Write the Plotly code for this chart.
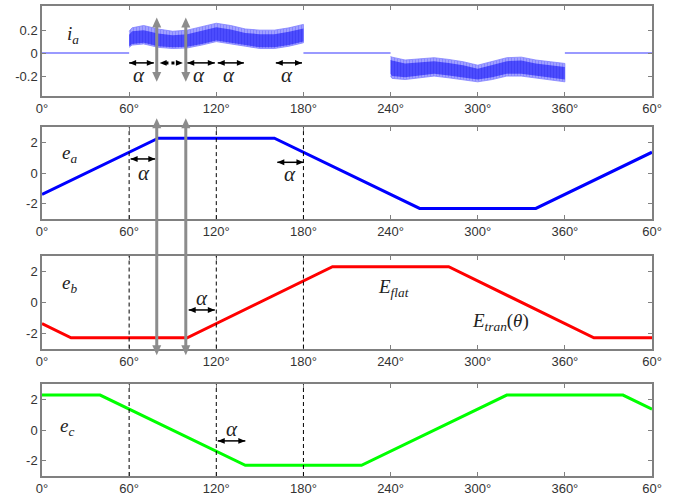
import plotly.graph_objects as go

# ---- angle axis ----
theta_ticks = [0, 60, 120, 180, 240, 300, 360, 420]
theta_labels = ["0°", "60°", "120°", "180°", "240°", "300°", "360°", "60°"]

# ---- phase back-EMF trapezoids (corner points) ----
ea_theta = [0, 80, 160, 260, 340, 420]
ea_val = [-1.38, 2.3, 2.3, -2.3, -2.3, 1.38]
eb_theta = [0, 20, 100, 200, 280, 380, 420]
eb_val = [-1.38, -2.3, -2.3, 2.3, 2.3, -2.3, -2.3]
ec_theta = [0, 40, 140, 220, 320, 400, 420]
ec_val = [2.3, 2.3, -2.3, -2.3, 2.3, 2.3, 1.38]

# ---- phase current: zero intervals ----
ia_zero_theta = [0, 60, None, 180, 240, None, 360, 420]
ia_zero_val = [0, 0, None, 0, 0, None, 0, 0]

# ---- phase current: PWM ripple band, positive conduction ----
pos_theta = [60, 62, 70, 80, 90, 100, 110, 120, 130, 140, 150, 160, 170, 180]
pos_outer_hi = [0.19, 0.22, 0.24, 0.21, 0.19, 0.20, 0.23, 0.26, 0.24, 0.21, 0.20, 0.20, 0.22, 0.25]
pos_outer_lo = [0.05, 0.07, 0.08, 0.05, 0.04, 0.045, 0.07, 0.10, 0.08, 0.06, 0.04, 0.04, 0.06, 0.09]
pos_inner_hi = [0.16, 0.19, 0.20, 0.17, 0.155, 0.165, 0.195, 0.225, 0.205, 0.175, 0.165, 0.165, 0.185, 0.215]
pos_inner_lo = [0.06, 0.08, 0.09, 0.06, 0.05, 0.055, 0.08, 0.11, 0.09, 0.07, 0.05, 0.05, 0.07, 0.10]

# ---- phase current: PWM ripple band, negative conduction ----
neg_theta = [240, 241, 250, 260, 270, 280, 290, 300, 310, 320, 330, 340, 350, 360]
neg_outer_hi = [-0.03, -0.035, -0.06, -0.05, -0.04, -0.055, -0.075, -0.105, -0.075, -0.04, -0.035, -0.06, -0.075, -0.09]
neg_outer_lo = [-0.20, -0.22, -0.23, -0.215, -0.20, -0.215, -0.23, -0.25, -0.23, -0.20, -0.20, -0.22, -0.235, -0.25]
neg_inner_hi = [-0.06, -0.065, -0.09, -0.08, -0.07, -0.085, -0.105, -0.135, -0.105, -0.07, -0.065, -0.09, -0.105, -0.12]
neg_inner_lo = [-0.18, -0.20, -0.21, -0.195, -0.18, -0.195, -0.21, -0.23, -0.21, -0.18, -0.18, -0.20, -0.215, -0.23]

# ---- alpha (commutation delay) markers: (start, end, level) per panel ----
alpha_arrows = {
    1: [(60, 77, -0.085), (100, 119, -0.085), (121, 139, -0.085), (161, 179, -0.085)],
    2: [(61, 78, 0.94), (162, 180, 0.72)],
    3: [(101, 119, -0.5)],
    4: [(121, 140, -0.7)],
}
alpha_labels = {
    1: [(67, -0.19), (108, -0.19), (129, -0.19), (169, -0.19)],
    2: [(70, 0.0), (171, -0.07)],
    3: [(110, 0.25)],
    4: [(131, 0.05)],
}
dotted_span = (81, 97, -0.085)

# gray sampling instants (angles) and their vertical extents
sample_theta = [79, 99]
sample_short = (0.31, -0.25)      # in the current panel (y units)
sample_long_top = 3.6             # above the ea panel (ea units)
sample_long_bottom = -3.43        # below the eb panel (eb units)

SERIF = "Liberation Serif"
SANS = "Liberation Sans"
GRAY = "#8c8c8c"

W, H = 679, 502
MARGIN = dict(l=42, r=27, t=4, b=26)
PX_PER_DEG = (W - MARGIN["l"] - MARGIN["r"]) / 420.0
PAPER_PER_PX = 1.0 / (H - MARGIN["t"] - MARGIN["b"])

domains = {1: [0.8093, 1.0], 2: [0.5466, 0.7415], 3: [0.2712, 0.4682], 4: [0.0, 0.1949]}
yranges = {1: [-0.37, 0.41], 2: [-3, 3], 3: [-3, 3], 4: [-3, 3]}
yticks = {1: ([-0.2, 0, 0.2], ["-0.2", "0", "0.2"]),
          2: ([-2, 0, 2], ["-2", "0", "2"]),
          3: ([-2, 0, 2], ["-2", "0", "2"]),
          4: ([-2, 0, 2], ["-2", "0", "2"])}


def to_paper(i, v):
    r, d = yranges[i], domains[i]
    return d[0] + (v - r[0]) / (r[1] - r[0]) * (d[1] - d[0])


def band(theta, hi, lo):
    return theta + theta[::-1], hi + lo[::-1]


def head_h(x_tip, yp, direction, color, length_px=7, width_px=6):
    # horizontal arrowhead; direction -1 points left, +1 points right
    dx = length_px / PX_PER_DEG * direction
    hw = width_px / 2 * PAPER_PER_PX
    return dict(type="path", xref="x", yref="paper", layer="above", fillcolor=color,
                line=dict(width=0, color=color),
                path="M %f,%f L %f,%f L %f,%f Z" % (x_tip, yp, x_tip - dx, yp + hw, x_tip - dx, yp - hw))


def head_v(x, yp_tip, direction, color, length_px=10, width_px=9):
    # vertical arrowhead; direction +1 points up, -1 points down
    dy = length_px * PAPER_PER_PX * direction
    hw = width_px / 2 / PX_PER_DEG
    return dict(type="path", xref="x", yref="paper", layer="above", fillcolor=color,
                line=dict(width=0, color=color),
                path="M %f,%f L %f,%f L %f,%f Z" % (x, yp_tip, x - hw, yp_tip - dy, x + hw, yp_tip - dy))


fig = go.Figure()

# current
fig.add_trace(go.Scatter(x=ia_zero_theta, y=ia_zero_val, mode="lines",
                         line=dict(color="#7878ff", width=1.5), xaxis="x", yaxis="y"))
for th, ohi, olo, ihi, ilo in [
    (pos_theta, pos_outer_hi, pos_outer_lo, pos_inner_hi, pos_inner_lo),
    (neg_theta, neg_outer_hi, neg_outer_lo, neg_inner_hi, neg_inner_lo),
]:
    bx, by = band(th, ohi, olo)
    fig.add_trace(go.Scatter(
        x=bx, y=by, mode="lines", fill="toself", line=dict(width=0.8, color="#8080ff"),
        fillcolor="#a0a0ff",
        fillpattern=dict(shape="|", size=3, solidity=0.45, fgcolor="#6464ff", bgcolor="#a6a6ff"),
        xaxis="x", yaxis="y"))
    bx, by = band(th, ihi, ilo)
    fig.add_trace(go.Scatter(
        x=bx, y=by, mode="lines", fill="toself", line=dict(width=0),
        fillcolor="#4444ff",
        fillpattern=dict(shape="|", size=3, solidity=0.5, fgcolor="#3030ee", bgcolor="#5050ff"),
        xaxis="x", yaxis="y"))

# EMFs
fig.add_trace(go.Scatter(x=ea_theta, y=ea_val, mode="lines",
                         line=dict(color="#0000ff", width=3), xaxis="x2", yaxis="y2"))
fig.add_trace(go.Scatter(x=eb_theta, y=eb_val, mode="lines",
                         line=dict(color="#ff0000", width=3), xaxis="x3", yaxis="y3"))
fig.add_trace(go.Scatter(x=ec_theta, y=ec_val, mode="lines",
                         line=dict(color="#00ff00", width=3), xaxis="x4", yaxis="y4"))

# ---- axes ----
common = dict(showline=True, linecolor="#808080", linewidth=1.5, mirror="ticks",
              ticks="inside", ticklen=4, tickwidth=1, tickcolor="#808080",
              showgrid=False, zeroline=False,
              tickfont=dict(family=SANS, size=13, color="#333333"))

layout = dict(width=W, height=H, margin=MARGIN,
              paper_bgcolor="white", plot_bgcolor="white", showlegend=False)
for i in range(1, 5):
    sx = "" if i == 1 else str(i)
    layout["xaxis" + sx] = dict(common, domain=[0, 1], range=[0, 420], anchor="y" + sx,
                               tickvals=theta_ticks, ticktext=theta_labels)
    tv, tt = yticks[i]
    layout["yaxis" + sx] = dict(common, domain=domains[i], range=yranges[i], anchor="x" + sx,
                               tickvals=tv, ticktext=tt)
fig.update_layout(**layout)

shapes = []
# dashed reference lines at 60/120/180 deg in the EMF panels
for i in (2, 3, 4):
    for t in theta_ticks[1:4]:
        shapes.append(dict(type="line", xref="x%d" % i, yref="y%d domain" % i,
                           x0=t, x1=t, y0=0, y1=1,
                           line=dict(color="black", width=1, dash="4px,3px")))

# black alpha double arrows
for i, arrs in alpha_arrows.items():
    for a, b, lvl in arrs:
        yp = to_paper(i, lvl)
        shapes.append(dict(type="line", xref="x", yref="paper", x0=a, x1=b, y0=yp, y1=yp,
                           layer="above", line=dict(color="black", width=1.5)))
        shapes.append(head_h(a, yp, -1, "black"))
        shapes.append(head_h(b, yp, 1, "black"))

# dotted double arrow between the two sampling instants
a, b, lvl = dotted_span
yp = to_paper(1, lvl)
shapes.append(dict(type="line", xref="x", yref="paper", x0=a + 4, x1=b - 4, y0=yp, y1=yp,
                   layer="above", line=dict(color="black", width=3, dash="dot")))
shapes.append(head_h(a, yp, -1, "black"))
shapes.append(head_h(b, yp, 1, "black"))

# gray sampling arrows: short ones in the current panel, long ones across ea/eb
for t in sample_theta:
    for top, bot in [(to_paper(1, sample_short[0]), to_paper(1, sample_short[1])),
                     (to_paper(2, sample_long_top), to_paper(3, sample_long_bottom))]:
        shapes.append(dict(type="line", xref="x", yref="paper", x0=t, x1=t,
                           y0=bot + 6 * PAPER_PER_PX, y1=top - 6 * PAPER_PER_PX,
                           layer="above", line=dict(color=GRAY, width=3)))
        shapes.append(head_v(t, top, 1, GRAY))
        shapes.append(head_v(t, bot, -1, GRAY))
fig.update_layout(shapes=shapes)

ann = []
for i, labs in alpha_labels.items():
    sx = "" if i == 1 else str(i)
    for x, y in labs:
        ann.append(dict(xref="x" + sx, yref="y" + sx, x=x, y=y, showarrow=False,
                        text="<i>α</i>", font=dict(family=SERIF, size=21, color="#222")))

# panel names
names = [(1, 21, 0.16, "<i>i</i><sub><i>a</i></sub>"),
         (2, 19, 1.25, "<i>e</i><sub><i>a</i></sub>"),
         (3, 19, 1.2, "<i>e</i><sub><i>b</i></sub>"),
         (4, 17, 0.2, "<i>e</i><sub><i>c</i></sub>"),
         (3, 242, 0.95, "<i>E</i><sub><i>flat</i></sub>"),
         (3, 316, -1.27, "<i>E</i><sub><i>tran</i></sub>(<i>θ</i>)")]
for i, x, y, txt in names:
    sx = "" if i == 1 else str(i)
    ann.append(dict(xref="x" + sx, yref="y" + sx, x=x, y=y, showarrow=False, text=txt,
                    font=dict(family=SERIF, size=19, color="#222")))
fig.update_layout(annotations=ann)

fig.write_html("out.html")
